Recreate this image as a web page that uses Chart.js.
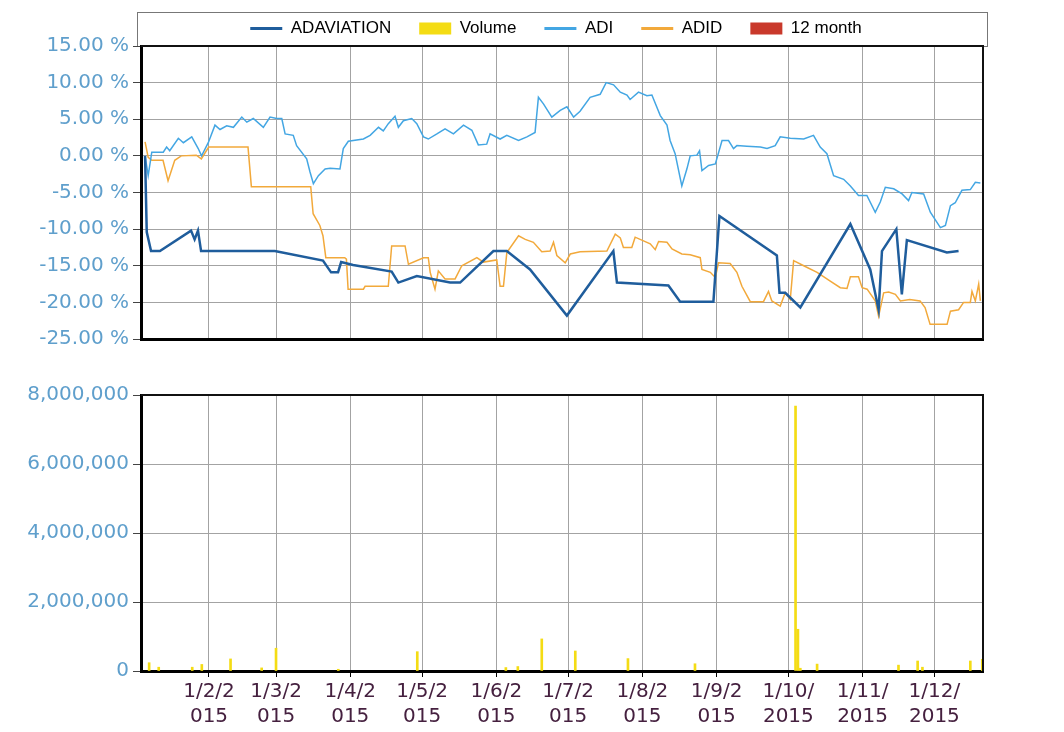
<!DOCTYPE html>
<html>
<head>
<meta charset="utf-8">
<script src="https://cdn.jsdelivr.net/npm/chart.js@4"></script>
<style>
  body { margin: 0; background: #fff; }
  #wrap { position: relative; width: 1064px; height: 732px; }
  #top { position: absolute; left: 0; top: 0; }
  #bottom { position: absolute; left: 0; top: 355px; }
</style>
</head>
<body>
<div id="wrap">
  <canvas id="top" width="1064" height="355"></canvas>
  <canvas id="bottom" width="1064" height="377"></canvas>
</div>
<script>
// x values are day of year 2015 (1 = 1 Jan), y values in %
var adaviationDays = [5.3, 6.0, 7.8, 11.5, 24.5, 26.0, 27.4, 28.7, 59.5, 79.6, 83.0, 85.9, 87.2, 92.2, 108.3, 111.1, 118.8, 132.7, 136.9, 150.8, 156.4, 166.1, 181.5, 200.9, 202.4, 223.9, 228.8, 242.7, 245.2, 269.2, 270.3, 272.7, 279.0, 299.9, 308.2, 311.7, 313.1, 319.1, 321.4, 323.5, 340.2, 345.1];
var adaviationValues = [0.0, -10.4, -13.0, -13.0, -10.2, -11.4, -10.2, -13.0, -13.0, -14.3, -15.9, -15.9, -14.5, -14.9, -15.8, -17.3, -16.4, -17.3, -17.3, -13.0, -13.0, -15.5, -21.8, -13.0, -17.3, -17.7, -19.9, -19.9, -8.2, -13.6, -18.7, -18.7, -20.7, -9.3, -15.5, -21.0, -13.0, -10.0, -18.9, -11.5, -13.2, -13.0];

var adiDays = [5.3, 6.6, 8.1, 12.9, 14.3, 15.6, 19.2, 21.3, 24.8, 27.5, 28.9, 31.7, 34.5, 36.6, 39.4, 42.2, 45.7, 47.8, 50.5, 54.7, 57.5, 60.3, 62.4, 63.8, 67.2, 68.6, 72.8, 74.2, 75.6, 77.7, 80.5, 82.6, 86.7, 88.1, 90.2, 96.5, 99.3, 102.8, 104.8, 106.9, 109.7, 111.1, 113.2, 116.7, 118.8, 121.6, 123.6, 127.2, 130.6, 134.1, 138.3, 141.8, 144.5, 148.0, 149.4, 153.6, 156.4, 161.3, 164.8, 168.2, 169.6, 171.7, 175.2, 178.7, 181.5, 184.3, 187.0, 191.2, 195.4, 197.9, 201.0, 203.8, 206.6, 207.9, 211.4, 214.9, 217.0, 220.5, 223.3, 224.6, 226.7, 229.5, 231.6, 233.0, 235.8, 236.9, 237.9, 240.7, 243.5, 246.3, 249.0, 251.1, 252.5, 256.7, 262.3, 265.1, 268.5, 270.6, 274.8, 280.4, 284.5, 287.3, 290.1, 292.9, 297.1, 299.9, 303.3, 306.8, 310.3, 312.4, 314.5, 318.0, 321.5, 324.2, 325.6, 330.5, 333.3, 337.5, 339.6, 341.7, 343.7, 346.5, 350.0, 352.1, 354.2];
var adiValues = [0.0, -2.7, 0.5, 0.5, 1.2, 0.7, 2.4, 1.8, 2.6, 1.0, 0.0, 1.8, 4.2, 3.6, 4.1, 3.9, 5.3, 4.6, 5.1, 3.9, 5.3, 5.1, 5.1, 3.0, 2.8, 1.4, -0.4, -2.2, -3.8, -2.7, -1.8, -1.7, -1.8, 1.0, 2.0, 2.3, 2.8, 3.9, 3.4, 4.4, 5.4, 3.9, 4.8, 5.1, 4.4, 2.6, 2.3, 3.0, 3.7, 3.0, 4.2, 3.5, 1.5, 1.6, 3.0, 2.3, 2.8, 2.1, 2.6, 3.2, 8.0, 7.1, 5.3, 6.2, 6.7, 5.3, 6.1, 8.0, 8.4, 10.0, 9.7, 8.7, 8.3, 7.7, 8.7, 8.2, 8.3, 5.5, 4.2, 2.1, 0.3, -4.1, -1.8, 0.0, 0.1, 0.7, -2.0, -1.3, -1.1, 2.1, 2.1, 1.0, 1.4, 1.3, 1.2, 1.0, 1.4, 2.6, 2.4, 2.3, 2.8, 1.2, 0.3, -2.7, -3.2, -4.1, -5.4, -5.4, -7.7, -6.3, -4.3, -4.5, -5.2, -6.1, -5.0, -5.2, -7.7, -9.8, -9.5, -6.8, -6.4, -4.7, -4.6, -3.6, -3.7];

var adidDays = [5.3, 6.6, 8.1, 12.8, 14.9, 17.7, 20.4, 26.7, 28.8, 30.9, 31.9, 48.3, 49.7, 74.5, 75.5, 78.3, 79.6, 80.8, 88.7, 89.4, 90.1, 96.5, 97.2, 106.9, 108.3, 113.9, 115.3, 121.6, 123.6, 124.4, 126.4, 127.8, 130.6, 134.8, 137.6, 143.9, 146.6, 152.2, 153.6, 155.0, 156.4, 161.3, 164.1, 167.5, 171.0, 174.5, 175.9, 177.3, 180.8, 182.9, 187.0, 198.2, 201.7, 203.8, 205.1, 208.6, 210.0, 216.3, 218.4, 219.8, 223.3, 225.4, 229.5, 233.0, 237.2, 237.9, 241.4, 243.5, 244.8, 249.7, 252.5, 254.6, 258.1, 263.6, 265.7, 267.1, 270.6, 272.7, 274.8, 276.2, 280.4, 286.0, 291.5, 295.7, 298.5, 299.9, 303.3, 304.8, 306.9, 310.3, 311.7, 313.8, 315.9, 318.7, 320.8, 324.7, 329.0, 331.1, 333.2, 340.3, 341.7, 345.1, 347.2, 350.0, 350.7, 352.1, 353.5, 354.2];
var adidValues = [1.9, -0.2, -0.6, -0.6, -3.4, -0.6, 0.0, 0.1, -0.4, 0.7, 1.2, 1.2, -4.2, -4.2, -7.9, -9.5, -10.9, -13.9, -13.9, -14.1, -18.2, -18.2, -17.8, -17.8, -12.3, -12.3, -14.8, -13.9, -13.9, -15.9, -18.2, -15.7, -16.8, -16.8, -15.0, -13.9, -14.5, -14.2, -17.8, -17.8, -13.2, -10.9, -11.4, -11.8, -13.1, -13.0, -11.8, -13.6, -14.6, -13.4, -13.1, -13.0, -10.7, -11.2, -12.5, -12.5, -11.1, -12.0, -12.8, -11.7, -11.8, -12.7, -13.4, -13.5, -13.9, -15.5, -15.9, -16.6, -14.6, -14.7, -15.9, -17.8, -19.9, -19.9, -18.5, -19.8, -20.5, -18.7, -19.6, -14.3, -15.0, -15.9, -17.1, -18.0, -18.1, -16.5, -16.5, -18.0, -18.2, -19.8, -21.9, -18.7, -18.6, -18.9, -19.8, -19.6, -19.8, -20.7, -23.0, -23.0, -21.2, -21.0, -20.0, -20.0, -18.5, -19.8, -17.5, -19.8];

var volumeDays = [7, 11, 25, 29, 41, 54, 60, 86, 119, 156, 161, 171, 185, 207, 235, 277, 278, 279, 286, 320, 328, 330, 350, 355];
var volumeValues = [240000, 110000, 110000, 190000, 350000, 90000, 660000, 50000, 560000, 100000, 130000, 930000, 580000, 360000, 210000, 7680000, 1210000, 80000, 200000, 170000, 290000, 110000, 290000, 340000];

var monthTicks = [32, 60, 91, 121, 152, 182, 213, 244, 274, 305, 335];
var monthLabels = ['1/2/2015', '1/3/2015', '1/4/2015', '1/5/2015', '1/6/2015', '1/7/2015', '1/8/2015', '1/9/2015', '1/10/2015', '1/11/2015', '1/12/2015'];

var xMin = 3.6, xMax = 355.3;
var gridColor = '#a3a3a3';
var tickFont = { family: 'DejaVu Sans', size: 20 };

function pts(xs, ys) {
  return xs.map(function(x, i) { return { x: x, y: ys[i] }; });
}

function monthAxisTicks(scale) {
  scale.ticks = monthTicks.map(function(v) { return { value: v }; });
}

// thin top and right frame of the plot
var frame = {
  id: 'frame',
  afterDraw: function(chart) {
    var a = chart.chartArea, ctx = chart.ctx;
    ctx.save();
    ctx.strokeStyle = '#111';
    ctx.lineWidth = 2;
    ctx.beginPath();
    ctx.moveTo(a.left, a.top);
    ctx.lineTo(a.right, a.top);
    ctx.lineTo(a.right, a.bottom);
    ctx.stroke();
    ctx.restore();
  }
};

// box round the legend, and the legend moved to sit over the plot
var legendFrame = {
  id: 'legendFrame',
  afterLayout: function(chart) {
    var lg = chart.legend;
    var shift = 556 - (lg.left + lg.right) / 2;
    lg.left += shift;
    lg.right += shift;
    lg.top -= 8;
    lg.bottom -= 8;
  },
  beforeDraw: function(chart) {
    var a = chart.chartArea, ctx = chart.ctx;
    ctx.save();
    ctx.strokeStyle = '#777';
    ctx.lineWidth = 1;
    ctx.strokeRect(a.left - 3.5, 12.5, a.right - a.left + 8, a.top - 12);
    ctx.restore();
  }
};

var legendBox = [false, true, false, false, true];

var topChart = new Chart(document.getElementById('top'), {
  type: 'line',
  data: {
    datasets: [
      { label: 'ADAVIATION', data: pts(adaviationDays, adaviationValues), borderColor: '#1f5d9c', borderWidth: 2.5 },
      { label: 'Volume', data: [], borderColor: '#f4dc14' },
      { label: 'ADI', data: pts(adiDays, adiValues), borderColor: '#43a6e3', borderWidth: 1.5 },
      { label: 'ADID', data: pts(adidDays, adidValues), borderColor: '#f2a93b', borderWidth: 1.5 },
      { label: '12 month', data: [], borderColor: '#c9392b' }
    ]
  },
  options: {
    responsive: false,
    animation: false,
    layout: { padding: { left: 20, right: 81, top: 0, bottom: 10 } },
    elements: { point: { radius: 0 }, line: { tension: 0 } },
    plugins: {
      tooltip: { enabled: false },
      legend: {
        maxHeight: 46,
        labels: {
          usePointStyle: true,
          pointStyleWidth: 32,
          boxHeight: 12,
          padding: 28,
          color: '#222',
          font: { family: 'Liberation Sans', size: 17 },
          generateLabels: function(chart) {
            return chart.data.datasets.map(function(ds, i) {
              var box = legendBox[i];
              return {
                text: ds.label,
                fillStyle: ds.borderColor,
                strokeStyle: ds.borderColor,
                lineWidth: box ? 0 : 3,
                pointStyle: box ? 'rect' : 'line',
                datasetIndex: i,
                hidden: false
              };
            });
          }
        }
      }
    },
    scales: {
      x: {
        type: 'linear', min: xMin, max: xMax,
        afterBuildTicks: monthAxisTicks,
        ticks: { display: false },
        grid: { color: gridColor, drawTicks: false },
        border: { color: '#000', width: 3 }
      },
      y: {
        min: -25, max: 15,
        afterFit: function(s) { s.width = 121; },
        ticks: {
          stepSize: 5, color: '#5f9fcc', font: tickFont, padding: 4,
          callback: function(v) { return v.toFixed(2) + ' %'; }
        },
        grid: { color: gridColor, tickColor: '#444', tickLength: 8 },
        border: { color: '#000', width: 3 }
      }
    }
  },
  plugins: [frame, legendFrame]
});

var bottomChart = new Chart(document.getElementById('bottom'), {
  type: 'bar',
  data: {
    datasets: [
      { label: 'Volume', data: pts(volumeDays, volumeValues), backgroundColor: '#f4dc14', barThickness: 2 }
    ]
  },
  options: {
    responsive: false,
    animation: false,
    layout: { padding: { left: 20, right: 81, top: 40, bottom: 1 } },
    plugins: { legend: { display: false }, tooltip: { enabled: false } },
    scales: {
      x: {
        type: 'linear', min: xMin, max: xMax, offset: false,
        afterBuildTicks: monthAxisTicks,
        ticks: {
          color: '#45203f', font: { family: 'DejaVu Sans', size: 20, lineHeight: 1.25 },
          padding: 2, maxRotation: 0, autoSkip: false,
          callback: function(v, i) {
            var s = monthLabels[i];
            return [s.slice(0, 5), s.slice(5)];
          }
        },
        grid: { color: gridColor, tickColor: '#000', tickLength: 6, offset: false },
        border: { color: '#000', width: 3 }
      },
      y: {
        min: 0, max: 8000000,
        afterFit: function(s) { s.width = 121; },
        ticks: {
          stepSize: 2000000, color: '#5f9fcc', font: tickFont, padding: 4,
          callback: function(v) { return v.toLocaleString('en-US'); }
        },
        grid: { color: gridColor, tickColor: '#444', tickLength: 8 },
        border: { color: '#000', width: 3 }
      }
    }
  },
  plugins: [frame]
});
</script>
</body>
</html>
